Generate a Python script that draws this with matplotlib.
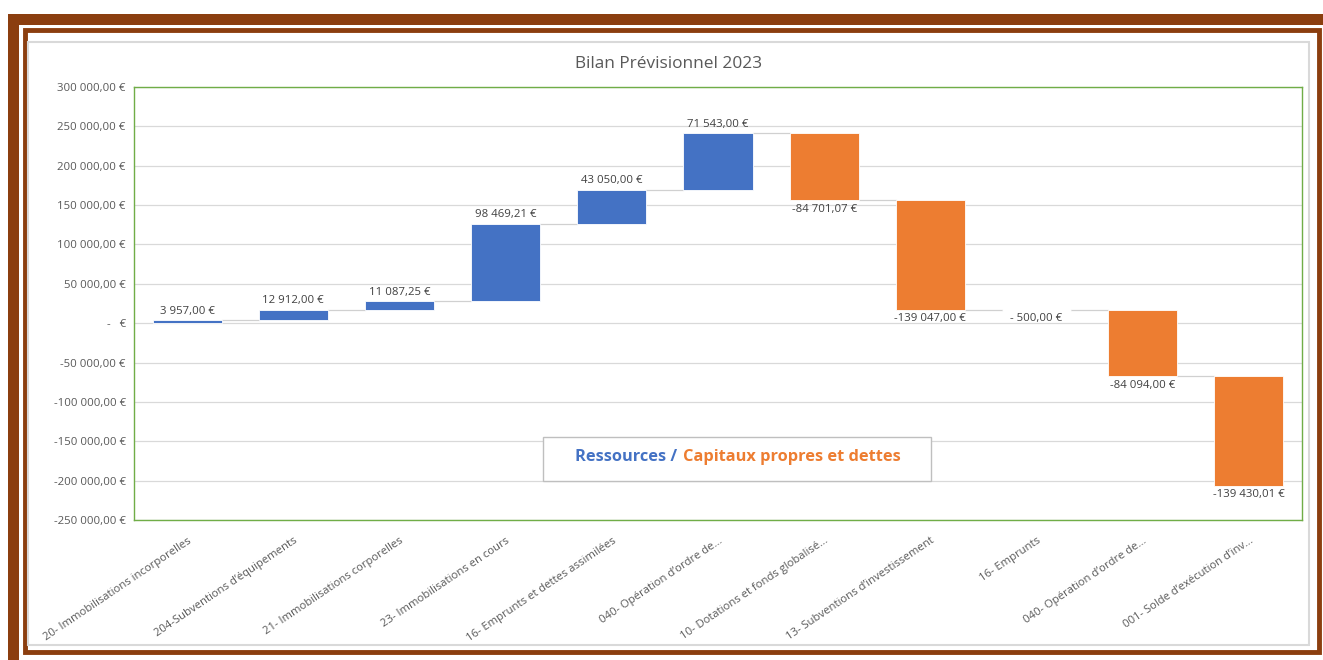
import matplotlib
matplotlib.use("Agg")
import matplotlib.pyplot as plt
from matplotlib.patches import Rectangle
import numpy as np

categories = [
    "20- Immobilisations incorporelles",
    "204-Subventions d\u2019équipements",
    "21- Immobilisations corporelles",
    "23- Immobilisations en cours",
    "16- Emprunts et dettes assimilées",
    "040- Opération d\u2019ordre de...",
    "10- Dotations et fonds globalisé...",
    "13- Subventions d\u2019investissement",
    "16- Emprunts",
    "040- Opération d\u2019ordre de...",
    "001- Solde d\u2019exécution d\u2019inv...",
]
values = [3957.00, 12912.00, 11087.25, 98469.21, 43050.00, 71543.00,
          -84701.07, -139047.00, -500.00, -84094.00, -139430.01]
yticks = [300000, 250000, 200000, 150000, 100000, 50000, 0,
          -50000, -100000, -150000, -200000, -250000]

BLUE = "#4472C4"
ORANGE = "#ED7D31"
BROWN = "#8B3E0F"
TXT = "#595959"
FONT = "Open Sans"
plt.rcParams['font.family'] = [FONT, 'DejaVu Sans']


def fmt_money(v):
    s = f"{abs(v):,.2f}".replace(",", " ").replace(".", ",")
    if v < 0:
        return ("- " if abs(v) < 1000 else "-") + s + " \u20ac"
    return s + " \u20ac"


def fmt_tick(v):
    if v == 0:
        return "-   \u20ac"
    s = f"{abs(v):,.2f}".replace(",", " ").replace(".", ",")
    return ("-" if v < 0 else "") + s + " \u20ac"


W, H = 1323, 660
fig = plt.figure(figsize=(W / 100, H / 100), dpi=100)


def px_rect(x0, y0, x1, y1, **kw):
    fig.add_artist(Rectangle((x0 / W, 1 - y1 / H), (x1 - x0) / W, (y1 - y0) / H,
                             transform=fig.transFigure, **kw))


# outer thick brown band (top and left)
px_rect(8, 14, W, 25, facecolor=BROWN, edgecolor="none")
px_rect(8, 14, 19, H, facecolor=BROWN, edgecolor="none")
# inner thin brown frame
px_rect(25, 30, 1319, 652, facecolor="none", edgecolor=BROWN, linewidth=3.5)
# light gray chart border
px_rect(28, 42, 1309, 645, facecolor="none", edgecolor="#D9D9D9", linewidth=1.5)

L, R, T, B = 134, 1302, 87, 520
ax = fig.add_axes([L / W, 1 - B / H, (R - L) / W, (B - T) / H])

vals = np.array(values)
ends = np.cumsum(vals)
starts = ends - vals
x = np.arange(len(vals))
bw = 0.65
colors = [BLUE if v >= 0 else ORANGE for v in vals]
ax.bar(x, vals, bottom=starts, width=bw, color=colors, edgecolor="white",
       linewidth=0.6, zorder=3)

# connectors
for i in range(len(vals) - 1):
    ax.plot([x[i] + bw / 2, x[i + 1] - bw / 2], [ends[i], ends[i]],
            color="#D0D0D0", linewidth=0.9, zorder=2)

# data labels
LBL = 8.2
for i, v in enumerate(vals):
    top = max(starts[i], ends[i])
    bot = min(starts[i], ends[i])
    if v >= 0:
        ax.annotate(fmt_money(v), (x[i], top), xytext=(0, 2.5), textcoords="offset points",
                    ha="center", va="bottom", fontsize=LBL, color="#404040")
    else:
        ax.annotate(fmt_money(v), (x[i], bot), xytext=(0, -2.5), textcoords="offset points",
                    ha="center", va="top", fontsize=LBL, color="#404040")

ax.set_xlim(-0.5, len(vals) - 0.5)
ax.set_ylim(-250000, 300000)
ax.set_yticks(yticks)
ax.set_yticklabels([fmt_tick(v) for v in yticks], fontsize=8.2, color=TXT)
ax.yaxis.grid(True, color="#D9D9D9", linewidth=0.9, zorder=0)
ax.set_axisbelow(True)
ax.tick_params(axis="y", length=0, pad=6)
ax.set_xticks(x)
ax.set_xticklabels(categories, rotation=34, ha="right", rotation_mode="anchor",
                   fontsize=8.1, color=TXT)
ax.tick_params(axis="x", length=0, pad=11)
for s in ax.spines.values():
    s.set_color("#70AD47")
    s.set_linewidth(1.0)

# title
fig.text(669 / W, 1 - 64 / H, "Bilan Prévisionnel 2023", ha="center",
         va="center", fontsize=12.4, color=TXT)

# legend-like box
px_rect(543, 437, 931, 481, facecolor="white", edgecolor="#BFBFBF", linewidth=1.0, zorder=5)
fig.text(677 / W, 1 - 457 / H, "Ressources /", ha="right", va="center", fontsize=11.8,
         fontweight="bold", color=BLUE, zorder=6)
fig.text(683 / W, 1 - 457 / H, "Capitaux propres et dettes", ha="left", va="center",
         fontsize=11.8, fontweight="bold", color=ORANGE, zorder=6)

fig.savefig("out.png", dpi=100, facecolor="white")
